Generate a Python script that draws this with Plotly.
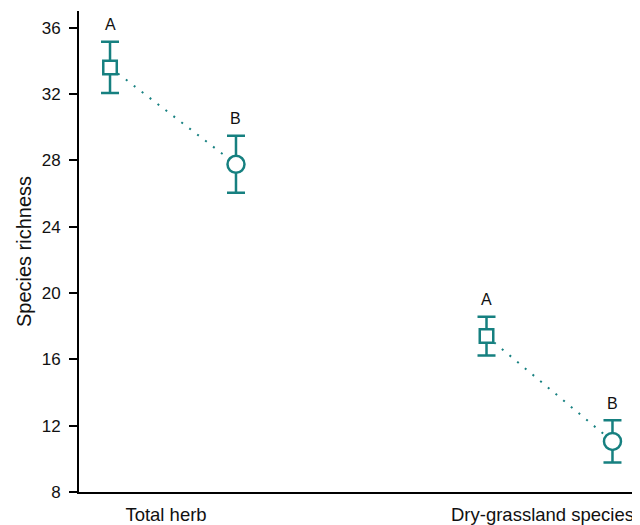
import plotly.graph_objects as go

# Data
groups = ["Total herb", "Dry-grassland species"]
group_pos = [1, 2]
offset = 0.1673
means = {
    "Total herb": [33.6, 27.76],
    "Dry-grassland species": [17.4, 11.05],
}
errors = {
    "Total herb": [1.55, 1.72],
    "Dry-grassland species": [1.17, 1.27],
}
letters = {
    "Total herb": ["A", "B"],
    "Dry-grassland species": ["A", "B"],
}
y_ticks = [8, 12, 16, 20, 24, 28, 32, 36]

teal = "#168080"
font_family = "Liberation Sans, Arial, sans-serif"

fig = go.Figure()
annotations = []
for g, gp in zip(groups, group_pos):
    xs = [gp - offset, gp + offset]
    ys = means[g]
    es = errors[g]
    # dotted connecting line
    fig.add_trace(go.Scatter(
        x=xs, y=ys, mode="lines",
        line=dict(color=teal, width=2, dash="2px,8px"),
        showlegend=False, hoverinfo="skip",
    ))
    # error bars (no visible markers)
    fig.add_trace(go.Scatter(
        x=xs, y=ys, mode="markers",
        marker=dict(size=1, color="rgba(0,0,0,0)"),
        error_y=dict(type="data", array=es, visible=True, color=teal,
                     thickness=2.5, width=9),
        showlegend=False, hoverinfo="skip",
    ))
    # open markers on top
    fig.add_trace(go.Scatter(
        x=xs, y=ys, mode="markers",
        marker=dict(symbol=["square", "circle"], size=[13.5, 17], color="white",
                    opacity=1, line=dict(color=teal, width=2.5)),
        showlegend=False, hoverinfo="skip",
    ))
    for x, y, e, lab in zip(xs, ys, es, letters[g]):
        annotations.append(dict(
            x=x, y=y + e, xref="x", yref="y", text=lab, showarrow=False,
            yanchor="middle", xanchor="center", yshift=17,
            font=dict(family=font_family, size=16, color="#111"),
        ))

# page body has an 8px margin, so the figure is sized/margined to compensate
fig.update_layout(
    width=632, height=517,
    margin=dict(l=71, r=0, t=3, b=33),
    paper_bgcolor="white", plot_bgcolor="white",
    font=dict(family=font_family, color="#111"),
    annotations=annotations,
)
fig.update_xaxes(
    range=[0.7503, 2.2404],
    tickvals=group_pos, ticktext=groups,
    ticks="", showgrid=False, zeroline=False, automargin=False,
    showline=True, linecolor="black", linewidth=2,
    tickfont=dict(size=18.5, family=font_family, color="#111"),
    ticklabelshift=-7, ticklabelstandoff=5,
)
fig.update_yaxes(
    range=[8, 37],
    tickvals=y_ticks, automargin=False,
    ticks="outside", ticklen=8, tickwidth=2, tickcolor="black",
    showgrid=False, zeroline=False,
    showline=True, linecolor="black", linewidth=2,
    tickfont=dict(size=17, family=font_family, color="#111"),
    ticklabelstandoff=5,
    title=dict(text="Species richness", font=dict(size=20, family=font_family, color="#111"), standoff=5),
)

fig.write_html("out.html")
